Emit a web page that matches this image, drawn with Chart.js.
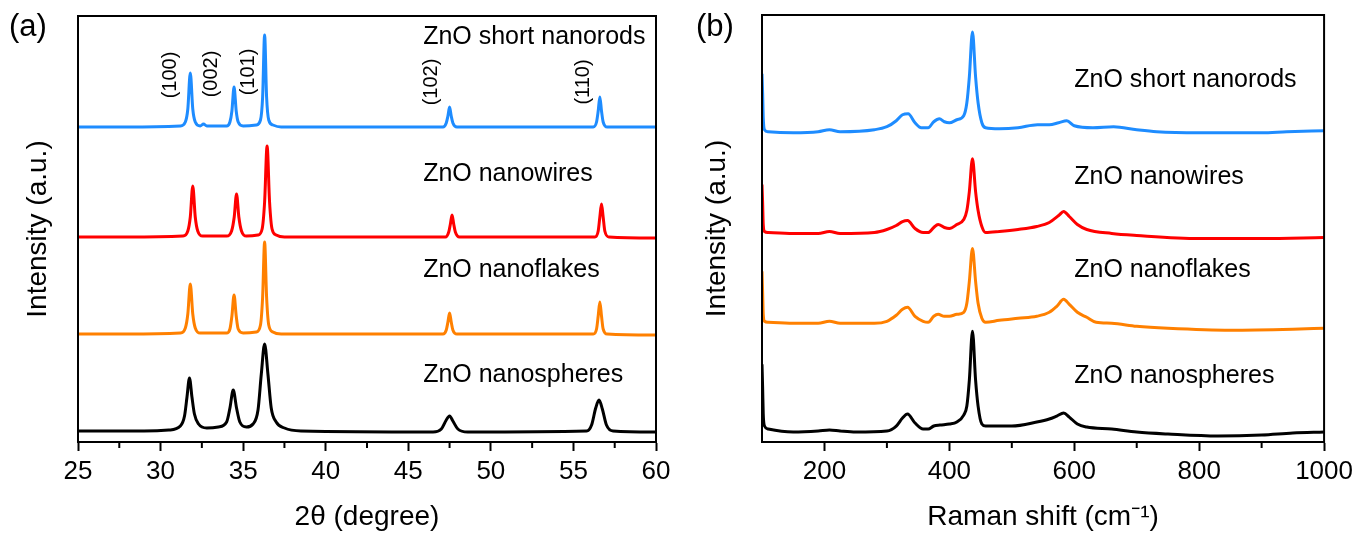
<!DOCTYPE html>
<html>
<head>
<meta charset="utf-8">
<script src="https://cdn.jsdelivr.net/npm/chart.js@4.4.1/dist/chart.umd.min.js"></script>
<style>
  html, body { margin: 0; padding: 0; background: #fff; }
  body { width: 1358px; height: 534px; position: relative; overflow: hidden; font-family: "Liberation Sans", Arial, sans-serif; }
  .panel { position: absolute; top: 0; width: 679px; height: 534px; }
  .tag { position: absolute; top: 8px; font-size: 31px; color: #000; }
</style>
</head>
<body>
<div class="panel" style="left:0"><canvas id="xrdChart" width="679" height="534"></canvas></div>
<div class="panel" style="left:679px"><canvas id="ramanChart" width="679" height="534"></canvas></div>
<div class="tag" style="left:9px">(a)</div>
<div class="tag" style="left:696px">(b)</div>
<script>
// ---- XRD (a) ----
const sampleNames = ["ZnO short nanorods", "ZnO nanowires", "ZnO nanoflakes", "ZnO nanospheres"];
const sampleColors = ["#1e8cff", "#ff0000", "#ff8000", "#000000"];

const xrdTicks = [25, 30, 35, 40, 45, 50, 55, 60];
const xrdMinorTicks = [27.5, 32.5, 37.5, 42.5, 47.5, 52.5, 57.5];
const planeLabels = ["(100)", "(002)", "(101)", "(102)", "(110)"];

const xrdRods = [[25,315],[28,315],[31.2,316],[31.5,320],[31.65,333],[31.8,369],[31.95,333],[32.1,320],[32.4,316],[32.6,318],[32.8,316],[34.0,316],[34.2,320],[34.32,331],[34.45,355],[34.58,331],[34.7,320],[35.0,316],[35.8,317],[36.05,322],[36.18,345],[36.3,407],[36.42,345],[36.55,322],[36.8,317],[37.3,315],[47.1,315],[47.3,319],[47.4,326],[47.5,335],[47.6,326],[47.7,319],[47.95,315],[56.2,315],[56.4,320],[56.5,331],[56.6,345],[56.7,331],[56.8,320],[57.05,315],[60,315]];
const xrdWires = [[25,205],[28,205],[31.35,206],[31.65,211],[31.8,225],[31.95,256],[32.1,225],[32.25,211],[32.55,206],[34.0,206],[34.3,211],[34.46,225],[34.6,248],[34.74,225],[34.9,211],[35.2,206],[35.9,207],[36.15,213],[36.3,240],[36.45,296],[36.6,240],[36.75,213],[37.0,207],[37.5,205],[47.25,205],[47.45,210],[47.55,218],[47.65,227],[47.75,218],[47.85,210],[48.1,205],[56.3,205],[56.5,211],[56.6,225],[56.7,238],[56.8,225],[56.9,211],[57.15,205],[60,204]];
const xrdFlakes = [[25,108],[28,108],[31.2,109],[31.5,114],[31.65,128],[31.8,158],[31.95,128],[32.1,114],[32.4,109],[34.0,109],[34.2,113],[34.32,126],[34.45,147],[34.58,126],[34.7,113],[35.0,109],[35.8,110],[36.05,117],[36.18,145],[36.3,200],[36.42,145],[36.55,117],[36.8,110],[37.3,108],[47.1,108],[47.3,112],[47.4,120],[47.5,129],[47.6,120],[47.7,112],[47.95,108],[56.2,108],[56.4,113],[56.5,126],[56.6,140],[56.7,126],[56.8,113],[57.05,108],[60,107]];
const xrdSpheres = [[25,11],[29,11],[30.5,12],[31.2,16],[31.45,26],[31.6,45],[31.75,64],[31.9,45],[32.05,28],[32.3,18],[32.8,14],[33.5,15],[34.0,20],[34.2,34],[34.4,52],[34.6,34],[34.8,20],[35.2,15],[35.6,18],[35.9,32],[36.1,68],[36.3,98],[36.5,68],[36.7,34],[37.0,20],[37.5,14],[38.5,11],[46.5,10],[47.0,13],[47.3,22],[47.5,26],[47.7,21],[48.0,13],[48.6,10],[55.8,11],[56.1,17],[56.35,34],[56.55,42],[56.75,33],[57.0,17],[57.4,11],[60,10]];

// ---- Raman (b) ----
const ramanTicks = [200, 400, 600, 800, 1000];
const ramanMinorTicks = [300, 500, 700, 900];

const ramanRods = [[100,369],[101,350],[102,325],[104,313],[110,311],[150,310],[190,311],[208,313],[225,311],[280,313],[300,316],[315,322],[325,328],[334,329],[345,320],[355,315],[366,315],[375,321],[384,324],[392,321],[400,320],[412,323],[423,327],[428,340],[432,366],[437,411],[442,366],[446,340],[452,320],[458,315],[480,314],[510,315],[541,318],[560,318],[575,320],[588,322],[600,317],[630,315],[663,316],[700,313],[732,311],[800,310],[835,310],[900,310],[940,311],[1000,312]];
const ramanWires = [[100,258],[101,240],[102,218],[104,211],[110,210],[150,209],[190,209],[208,211],[225,209],[280,210],[300,213],[315,217],[325,221],[333,222],[345,214],[358,210],[366,210],[375,215],[382,218],[392,215],[400,214],[412,218],[423,223],[428,232],[432,251],[437,284],[442,251],[446,232],[452,216],[458,210],[480,211],[510,213],[540,216],[560,220],[575,227],[583,231],[592,226],[605,218],[620,213],[660,209],[700,207],[800,204],[900,204],[1000,205]];
const ramanFlakes = [[100,171],[101,150],[102,128],[104,121],[110,120],[150,119],[190,119],[208,121],[225,119],[280,119],[300,121],[315,127],[325,133],[333,135],[345,126],[358,121],[366,120],[375,126],[382,128],[392,126],[400,126],[412,128],[423,130],[428,139],[432,161],[437,194],[442,161],[446,139],[452,124],[458,120],[480,122],[510,124],[540,126],[560,130],[572,136],[583,143],[592,138],[605,130],[620,125],[635,120],[660,119],[700,116],[750,114],[850,112],[950,113],[1000,114]];
const ramanSpheres = [[100,78],[101,55],[102,28],[104,16],[110,13],[150,10],[190,11],[208,12],[225,11],[250,10],[300,11],[315,16],[325,24],[333,28],[345,19],[358,13],[366,13],[375,16],[385,17],[400,18],[412,20],[423,27],[428,36],[432,62],[437,111],[442,62],[446,36],[452,18],[458,16],[480,16],[500,16],[540,20],[560,23],[572,26],[583,29],[592,25],[605,18],[620,15],[660,13],[700,10],[750,8],[830,6],[900,7],[950,9],[1000,10]];

// where the texts sit, in data units of each panel
const xrdNamePos = [[45.9, 405], [45.9, 268], [45.9, 172], [45.9, 67]];
const xrdPlanePos = [[30.6, 367], [33.1, 368], [35.3, 370], [46.4, 360], [55.6, 360]];
const ramanNamePos = [[600, 363], [600, 266], [600, 172], [600, 66]];

Chart.defaults.font.family = '"Liberation Sans", Arial, sans-serif';
Chart.defaults.color = '#000';

const framePlugin = {
  id: 'frame',
  afterDraw(chart, args, opts) {
    const { ctx, chartArea: a, scales } = chart;
    ctx.save();
    ctx.strokeStyle = '#000';
    ctx.lineWidth = 2;
    ctx.strokeRect(a.left, a.top, a.right - a.left, a.bottom - a.top);
    // minor ticks
    (opts.minor || []).forEach(v => {
      const px = scales.x.getPixelForValue(v);
      ctx.beginPath();
      ctx.moveTo(px, a.bottom);
      ctx.lineTo(px, a.bottom + 6);
      ctx.stroke();
    });
    // sample names
    ctx.fillStyle = '#000';
    ctx.font = '25px "Liberation Sans", Arial, sans-serif';
    ctx.textBaseline = 'middle';
    ctx.textAlign = 'left';
    (opts.names || []).forEach((p, i) => {
      ctx.fillText(sampleNames[i], scales.x.getPixelForValue(p[0]), scales.y.getPixelForValue(p[1]));
    });
    // plane labels, rotated
    ctx.font = '20px "Liberation Sans", Arial, sans-serif';
    ctx.textAlign = 'center';
    (opts.planes || []).forEach((p, i) => {
      ctx.save();
      ctx.translate(scales.x.getPixelForValue(p[0]), scales.y.getPixelForValue(p[1]));
      ctx.rotate(-Math.PI / 2);
      ctx.fillText(planeLabels[i], 0, 0);
      ctx.restore();
    });
    ctx.restore();
  }
};

function makeDatasets(list) {
  return list.map((pts, i) => ({
    label: sampleNames[i],
    data: pts.map(p => ({ x: p[0], y: p[1] })),
    borderColor: sampleColors[i],
    borderWidth: 3,
    pointRadius: 0,
    fill: false,
    cubicInterpolationMode: 'monotone'
  }));
}

function makeChart(id, cfg) {
  return new Chart(document.getElementById(id), {
    type: 'line',
    data: { datasets: makeDatasets(cfg.series) },
    plugins: [framePlugin],
    options: {
      responsive: false,
      animation: false,
      devicePixelRatio: 1,
      layout: { padding: { top: cfg.top, right: cfg.right, left: 0, bottom: 0 } },
      plugins: {
        legend: { display: false },
        tooltip: { enabled: false },
        frame: { minor: cfg.minor, names: cfg.names, planes: cfg.planes }
      },
      scales: {
        x: {
          type: 'linear',
          min: cfg.xMin,
          max: cfg.xMax,
          afterBuildTicks: s => { s.ticks = cfg.ticks.map(v => ({ value: v })); },
          afterFit: s => { s.height = 92; },
          grid: { drawOnChartArea: false, drawTicks: true, tickLength: 9, tickWidth: 2, tickColor: '#000' },
          border: { display: true, color: '#000', width: 2 },
          ticks: { font: { size: 26 }, color: '#000', padding: 5, maxRotation: 0, callback: v => String(v) },
          title: { display: true, text: cfg.xTitle, font: { size: 28 }, color: '#000', padding: 0 }
        },
        y: {
          min: 0,
          max: cfg.yMax,
          afterFit: s => { s.width = cfg.yWidth; },
          grid: { display: false },
          border: { display: true, color: '#000', width: 2 },
          ticks: { display: false },
          title: { display: true, text: 'Intensity (a.u.)', font: { size: 28 }, color: '#000', padding: { top: 21, bottom: 0 } }
        }
      }
    }
  });
}

makeChart('xrdChart', {
  series: [xrdRods, xrdWires, xrdFlakes, xrdSpheres],
  xMin: 25, xMax: 60, ticks: xrdTicks, minor: xrdMinorTicks,
  xTitle: '2\u03B8 (degree)', yMax: 426, yWidth: 78, top: 16, right: 23,
  names: xrdNamePos, planes: xrdPlanePos
});

makeChart('ramanChart', {
  series: [ramanRods, ramanWires, ramanFlakes, ramanSpheres],
  xMin: 100, xMax: 1000, ticks: ramanTicks, minor: ramanMinorTicks,
  xTitle: 'Raman shift (cm\u207B\u00B9)', yMax: 428, yWidth: 83, top: 15, right: 32,
  names: ramanNamePos, planes: []
});
</script>
</body>
</html>
